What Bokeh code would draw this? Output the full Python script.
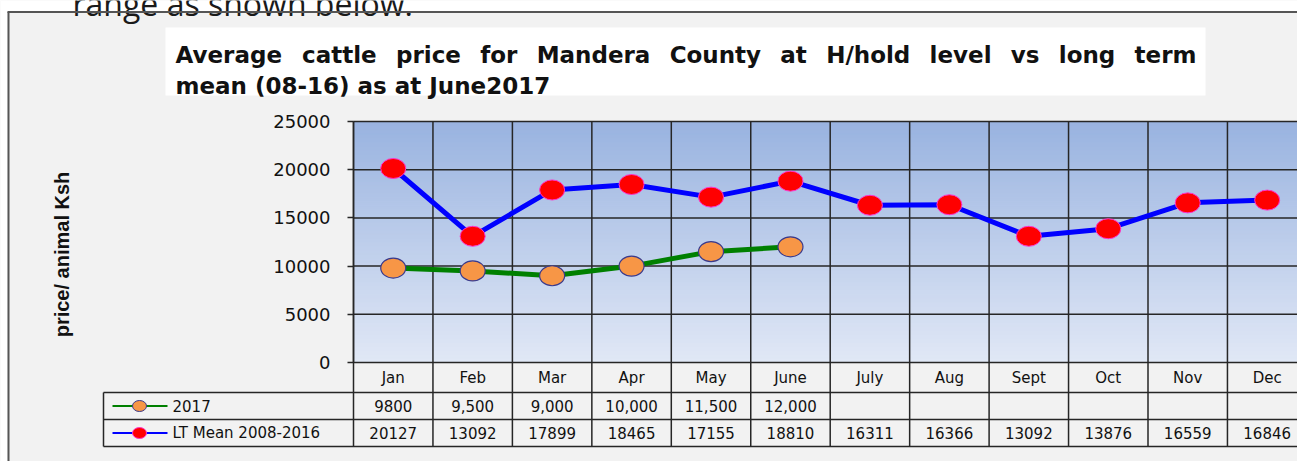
import numpy as np
from bokeh.plotting import figure
from bokeh.models import Range1d, LinearAxis, FixedTicker
from bokeh.core.properties import value
from bokeh.embed import file_html
from bokeh.resources import INLINE

# ---------------- data ----------------
MONTHS = ["Jan", "Feb", "Mar", "Apr", "May", "June", "July", "Aug", "Sept", "Oct", "Nov", "Dec"]
PRICE_2017 = [9800, 9500, 9000, 10000, 11500, 12000]
LABELS_2017 = ["9800", "9,500", "9,000", "10,000", "11,500", "12,000"]
LT_MEAN = [20127, 13092, 17899, 18465, 17155, 18810, 16311, 16366, 13092, 13876, 16559, 16846]
Y_TICKS = [0, 5000, 10000, 15000, 20000, 25000]
SERIES_NAMES = ["2017", "LT Mean 2008-2016"]
TITLE_LINE1 = "Average cattle price for Mandera County at H/hold level vs long term"
TITLE_LINE2 = "mean (08-16) as at June2017"
Y_LABEL = "price/ animal Ksh"
PAGE_TEXT = "range as shown below."

# ---------------- layout (pixel geometry of the page) ----------------
W, H = 1297, 461
OFF = 0
PA_LEFT, COL_W = 353, 79.45
PA_TOP, PA_BOTTOM = 121, 362
Y_MAX = Y_TICKS[-1]
UNIT_Y = Y_MAX / (PA_BOTTOM - PA_TOP)


def px2x(px):
    return 0.5 + (px - PA_LEFT) / COL_W


def px2y(py):
    return (PA_BOTTOM - py) * UNIT_Y


X0, X1 = px2x(OFF), px2x(OFF + W)
Y0, Y1 = px2y(OFF + H), px2y(OFF)

GRID_COL = "#262626"
TXT = "#111111"

p = figure(width=W, height=H, x_range=Range1d(X0, X1), y_range=Range1d(Y0, Y1),
           x_axis_type=None, y_axis_type=None, output_backend="svg",
           toolbar_location=None, min_border=0, outline_line_color=None,
           background_fill_color="#f2f2f2", border_fill_color="#f2f2f2")

# page strip above the chart frame (document text cut off at the top)
p.quad(left=X0, right=X1, top=Y1, bottom=px2y(11), fill_color="white", line_color=None)
p.quad(left=X0, right=px2x(7), top=Y1, bottom=Y0, fill_color="white", line_color=None)
p.text(x=[px2x(72)], y=[px2y(3)], text=[PAGE_TEXT], text_font=value("Open Sans"),
       text_font_size="32px", text_align="left", text_baseline="alphabetic", text_color="#1a1a1a")
p.segment(x0=px2x(7), x1=X1, y0=px2y(11.5), y1=px2y(11.5), line_color="#555555", line_width=2)
p.segment(x0=px2x(8), x1=px2x(8), y0=Y0, y1=px2y(11.5), line_color="#555555", line_width=2)

# title box and words (line 1 justified)
p.quad(left=px2x(165), right=px2x(1205), top=px2y(27), bottom=px2y(95),
       fill_color="white", line_color=None)
ADV = {" ": 348, "A": 774, "C": 734, "H": 837, "M": 995, "a": 675, "c": 593, "d": 716,
       "e": 678, "f": 435, "g": 716, "h": 712, "i": 343, "l": 343, "m": 1042, "n": 712,
       "o": 687, "p": 716, "r": 493, "s": 595, "t": 478, "u": 712, "v": 652, "y": 652, "/": 365}
FS = 23
words = TITLE_LINE1.split(" ")
wid = [sum(ADV.get(ch, 650) for ch in w) * FS / 1000 for w in words]
line_left, line_right = 175, 1196
gap = (line_right - line_left - sum(wid)) / (len(words) - 1)
pos = []
cur = line_left
for w_ in wid:
    pos.append(cur)
    cur += w_ + gap
p.text(x=[px2x(v) for v in pos], y=[px2y(54)] * len(words), text=words,
       text_font=value("DejaVu Sans"), text_font_style="bold", text_font_size=f"{FS}px",
       text_align="left", text_baseline="alphabetic", text_color=TXT)
p.text(x=[px2x(line_left)], y=[px2y(85)], text=[TITLE_LINE2],
       text_font=value("DejaVu Sans"), text_font_style="bold", text_font_size=f"{FS}px",
       text_align="left", text_baseline="alphabetic", text_color=TXT)

# y-axis title
p.text(x=[px2x(61)], y=[px2y(254)], text=[Y_LABEL], angle=np.pi / 2,
       text_font=value("Liberation Sans"), text_font_style="bold", text_font_size="20px",
       text_align="center", text_baseline="middle", text_color=TXT)

# plot area gradient
N = 60
top_c = np.array([0x99, 0xb3, 0xe0])
bot_c = np.array([0xe1, 0xe8, 0xf6])
edges = np.linspace(0, Y_MAX, N + 1)
tt = (edges[:-1] + edges[1:]) / 2 / Y_MAX
cols = ["#%02x%02x%02x" % tuple(int(round(c)) for c in bot_c + (top_c - bot_c) * t) for t in tt]
n_cols = len(MONTHS)
p.quad(left=0.5, right=n_cols + 0.5, bottom=edges[:-1], top=edges[1:],
       fill_color=cols, line_color=cols, line_width=1)

# grid lines / table borders
col_edges = np.arange(n_cols + 1) + 0.5
TABLE_BOTTOM = 446
p.segment(x0=0.5, x1=n_cols + 0.5, y0=Y_TICKS, y1=Y_TICKS, line_color=GRID_COL, line_width=1.5)
p.segment(x0=col_edges, x1=col_edges, y0=px2y(TABLE_BOTTOM), y1=Y_MAX,
          line_color=GRID_COL, line_width=1.5)
row_lines = [392, 419, TABLE_BOTTOM]
p.segment(x0=px2x(103), x1=n_cols + 0.5, y0=[px2y(r) for r in row_lines],
          y1=[px2y(r) for r in row_lines], line_color=GRID_COL, line_width=1.5)
p.segment(x0=px2x(103), x1=px2x(103), y0=px2y(392), y1=px2y(TABLE_BOTTOM),
          line_color=GRID_COL, line_width=1.5)

# series
xs = np.arange(1, n_cols + 1)
n17 = len(PRICE_2017)
p.line(xs[:n17], PRICE_2017, line_color="#008000", line_width=5)
p.line(xs, LT_MEAN, line_color="#0000ff", line_width=5)
p.ellipse(xs[:n17], PRICE_2017, width=25, height=20, width_units="screen", height_units="screen",
          fill_color="#f79646", line_color="#3a3a8c", line_width=1.2)
p.ellipse(xs, LT_MEAN, width=25, height=20, width_units="screen", height_units="screen",
          fill_color="#ff0000", line_color="#ff33cc", line_width=1)

# y axis
yax = LinearAxis(ticker=FixedTicker(ticks=Y_TICKS, minor_ticks=[]), fixed_location=0.5,
                 bounds=(0, Y_MAX))
yax.axis_line_color = GRID_COL
yax.axis_line_width = 1.5
yax.major_tick_line_color = GRID_COL
yax.major_tick_line_width = 1.5
yax.major_tick_out = 6
yax.major_tick_in = 0
yax.minor_tick_out = 0
yax.minor_tick_in = 0
yax.major_label_standoff = 17
yax.major_label_text_font = "DejaVu Sans"
yax.major_label_text_font_size = "18px"
yax.major_label_text_color = TXT
p.add_layout(yax, "left")

# data table
tfont = dict(text_font=value("DejaVu Sans"), text_font_size="15px", text_color=TXT,
             text_baseline="middle")
p.text(x=xs, y=[px2y(377)] * n_cols, text=MONTHS, text_align="center", **tfont)
p.text(x=xs[:n17], y=[px2y(405.5)] * n17, text=LABELS_2017, text_align="center", **tfont)
p.text(x=xs, y=[px2y(432.5)] * n_cols, text=[str(v) for v in LT_MEAN], text_align="center", **tfont)

# legend keys inside the table
for row_y, lc, fc, ec, name in [(405.5, "#008000", "#f79646", "#3a3a8c", SERIES_NAMES[0]),
                                (432.5, "#0000ff", "#ff0000", "#ff33cc", SERIES_NAMES[1])]:
    p.segment(x0=px2x(112), x1=px2x(167), y0=px2y(row_y), y1=px2y(row_y), line_color=lc, line_width=2)
    p.ellipse([px2x(139)], [px2y(row_y)], width=14, height=11, width_units="screen",
              height_units="screen", fill_color=fc, line_color=ec, line_width=1)
    p.text(x=[px2x(172)], y=[px2y(row_y)], text=[name], text_align="left", **tfont)

open("out.html", "w").write(file_html(p, INLINE))
